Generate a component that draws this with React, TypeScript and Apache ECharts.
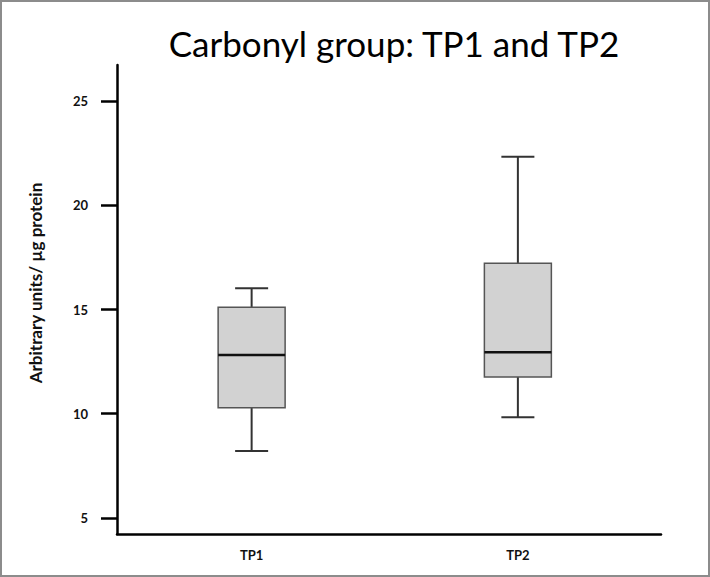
import React, { useEffect, useRef } from 'react';
import * as echarts from 'echarts';

const categories = ['TP1', 'TP2'];
const whiskerLow = [8.21, 9.83];
const quartile1 = [10.29, 11.76];
const medians = [12.82, 12.95];
const quartile3 = [15.11, 17.22];
const whiskerHigh = [16.02, 22.33];
const yTicks = [5, 10, 15, 20, 25];
const yMin = 4.23;
const yMax = 26.73;

const titleText = 'Carbonyl group: TP1 and TP2';
const yName = 'Arbitrary units/ \u00b5g protein';

const FONT = 'Lato, "Open Sans", sans-serif';

export default function App() {
  const ref = useRef<HTMLDivElement>(null);
  useEffect(() => {
    if (!ref.current) return;
    const chart = echarts.init(ref.current, null, { renderer: 'svg' });
    const data = categories.map((_, i) => [
      i,
      whiskerLow[i],
      quartile1[i],
      medians[i],
      quartile3[i],
      whiskerHigh[i],
    ]);
    const option: any = {
      animation: false,
      backgroundColor: '#ffffff',
      title: {
        text: titleText,
        left: 389,
        top: 20,
        textAlign: 'center',
        textStyle: { fontFamily: FONT, fontSize: 35, fontWeight: 'normal', color: '#000' },
      },
      grid: [
        { left: 118.5, right: 59, top: 65, bottom: 43 },
        { left: 117, right: 49, top: 65, bottom: 43 },
      ],
      xAxis: [
        {
          type: 'category',
          gridIndex: 0,
          data: categories,
          axisLine: { show: false },
          axisTick: { show: false },
          splitLine: { show: false },
          axisLabel: {
            margin: 14,
            fontFamily: FONT,
            fontSize: 13,
            fontWeight: 'bold',
            color: '#111',
          },
        },
        {
          type: 'value',
          gridIndex: 1,
          min: 0,
          max: 1,
          axisLine: { show: true, onZero: false, lineStyle: { color: '#000', width: 2.5 } },
          axisTick: { show: false },
          axisLabel: { show: false },
          splitLine: { show: false },
        },
      ],
      yAxis: [
        {
          type: 'value',
          gridIndex: 0,
          min: yMin,
          max: yMax,
          show: false,
          splitLine: { show: false },
        },
        {
          type: 'value',
          gridIndex: 1,
          min: yMin,
          max: yMax,
          axisLine: { show: true, onZero: false, lineStyle: { color: '#000', width: 2.5 } },
          axisTick: {
            show: true,
            customValues: yTicks,
            length: 16,
            lineStyle: { color: '#000', width: 2.5 },
          },
          axisLabel: {
            show: true,
            customValues: yTicks,
            margin: 29,
            fontFamily: FONT,
            fontSize: 13,
            fontWeight: 'bold',
            color: '#111',
          },
          splitLine: { show: false },
        },
      ],
      graphic: [
        {
          type: 'rect',
          shape: { x: 1, y: 1, width: 708, height: 575 },
          style: { fill: 'none', stroke: '#8c8c8c', lineWidth: 2 },
          silent: true,
        },
        {
          type: 'text',
          x: 35,
          y: 283,
          rotation: Math.PI / 2,
          style: {
            text: yName,
            fontFamily: FONT,
            fontSize: 17,
            fontWeight: 'bold',
            fill: '#111',
            textAlign: 'center',
            textVerticalAlign: 'middle',
          },
        },
      ],
      series: [
        {
          type: 'custom',
          xAxisIndex: 0,
          yAxisIndex: 0,
          clip: false,
          encode: { x: 0, y: [1, 2, 3, 4, 5] },
          data,
          renderItem: (params: any, api: any) => {
            const x = api.value(0);
            const lo = api.coord([x, api.value(1)]);
            const b1 = api.coord([x, api.value(2)]);
            const md = api.coord([x, api.value(3)]);
            const b3 = api.coord([x, api.value(4)]);
            const hi = api.coord([x, api.value(5)]);
            const band = api.size([1, 0])[0];
            const bw = band * 0.2516;
            const cw = band * 0.124;
            const cx = lo[0];
            const whisk = { stroke: '#333', lineWidth: 2 };
            return {
              type: 'group',
              children: [
                { type: 'line', shape: { x1: cx, y1: hi[1], x2: cx, y2: b3[1] }, style: whisk },
                { type: 'line', shape: { x1: cx, y1: b1[1], x2: cx, y2: lo[1] }, style: whisk },
                { type: 'line', shape: { x1: cx - cw / 2, y1: hi[1], x2: cx + cw / 2, y2: hi[1] }, style: whisk },
                { type: 'line', shape: { x1: cx - cw / 2, y1: lo[1], x2: cx + cw / 2, y2: lo[1] }, style: whisk },
                {
                  type: 'rect',
                  shape: { x: cx - bw / 2, y: b3[1], width: bw, height: b1[1] - b3[1] },
                  style: { fill: '#d2d2d2', stroke: '#555', lineWidth: 1.5 },
                },
                {
                  type: 'line',
                  shape: { x1: cx - bw / 2, y1: md[1], x2: cx + bw / 2, y2: md[1] },
                  style: { stroke: '#111', lineWidth: 2.5 },
                },
              ],
            };
          },
        },
      ],
    };
    chart.setOption(option);
    return () => chart.dispose();
  }, []);
  return (
    <div
      ref={ref}
      style={{ position: 'absolute', left: 0, top: 0, width: 710, height: 577 }}
    />
  );
}
